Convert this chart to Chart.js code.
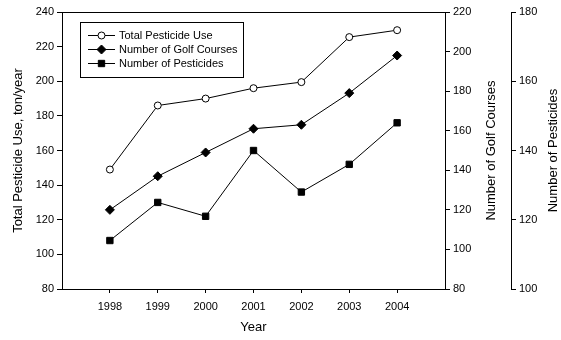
<!DOCTYPE html>
<html>
<head>
<meta charset="utf-8">
<script src="https://cdn.jsdelivr.net/npm/chart.js@4/dist/chart.umd.min.js"></script>
<style>
  html, body { margin: 0; padding: 0; background: #fff; }
  #chart { display: block; }
</style>
</head>
<body>
<canvas id="chart" width="561" height="340"></canvas>
<script>
// values
const years = [1998, 1999, 2000, 2001, 2002, 2003, 2004];
const totalUse = [149, 186, 190, 196, 199.5, 225.5, 229.5];   // ton/year, left axis
const golfCourses = [120, 137, 149, 161, 163, 179, 198];      // middle axis
const pesticides = [114, 125, 121, 140, 128, 136, 148];       // far right axis

const seriesNames = ['Total Pesticide Use', 'Number of Golf Courses', 'Number of Pesticides'];
const yTitles = ['Total Pesticide Use, ton/year', 'Number of Golf Courses', 'Number of Pesticides'];

const FONT = 'Arial, "Liberation Sans", sans-serif';

function pts(vals) {
    return years.map((y, i) => ({ x: y, y: vals[i] }));
}

function drawMarker(ctx, style, x, y, r, fill) {
    ctx.beginPath();
    if (style === 'circle') {
        ctx.arc(x, y, r, 0, Math.PI * 2);
    } else if (style === 'rectRot') {
        ctx.moveTo(x, y - r);
        ctx.lineTo(x + r, y);
        ctx.lineTo(x, y + r);
        ctx.lineTo(x - r, y);
        ctx.closePath();
    } else {
        const s = r * Math.SQRT1_2;
        ctx.rect(x - s, y - s, s * 2, s * 2);
    }
    ctx.fillStyle = fill;
    ctx.fill();
    ctx.strokeStyle = '#000';
    ctx.lineWidth = 1;
    ctx.stroke();
}

// top frame line, legend box and the rotated axis titles
const extras = {
    id: 'extras',
    afterDraw(chart) {
        const ctx = chart.ctx;
        const area = chart.chartArea;
        ctx.save();

        ctx.strokeStyle = '#000';
        ctx.lineWidth = 1;
        ctx.beginPath();
        ctx.moveTo(area.left, area.top + 0.5);
        ctx.lineTo(area.right, area.top + 0.5);
        ctx.stroke();

        // legend
        ctx.strokeRect(80.5, 22.5, 163, 55);
        const rows = [35, 49, 63];
        chart.data.datasets.forEach((ds, i) => {
            const y = rows[i];
            ctx.beginPath();
            ctx.moveTo(88, y + 0.5);
            ctx.lineTo(115, y + 0.5);
            ctx.strokeStyle = '#000';
            ctx.stroke();
            drawMarker(ctx, ds.pointStyle, 101.5, y + 0.5, ds.pointRadius, ds.pointBackgroundColor);
            ctx.fillStyle = '#000';
            ctx.font = '11px ' + FONT;
            ctx.textAlign = 'left';
            ctx.textBaseline = 'middle';
            ctx.fillText(ds.label, 119, y + 1);
        });

        // y axis titles, all reading bottom to top
        const cy = (area.top + area.bottom) / 2;
        [18, 491, 553].forEach((x, i) => {
            ctx.save();
            ctx.translate(x, cy);
            ctx.rotate(-Math.PI / 2);
            ctx.fillStyle = '#000';
            ctx.font = '13px ' + FONT;
            ctx.textAlign = 'center';
            ctx.textBaseline = 'middle';
            ctx.fillText(yTitles[i], 0, 0);
            ctx.restore();
        });
        ctx.restore();
    }
};

function yAxis(position, min, max, width, weight) {
    return {
        type: 'linear',
        position: position,
        weight: weight,
        min: min,
        max: max,
        afterFit: s => { s.width = width; },
        border: { display: true, color: '#000', width: 1 },
        grid: { drawOnChartArea: false, drawTicks: true, tickLength: 5, color: '#000' },
        ticks: { stepSize: 20, color: '#000', padding: 3, font: { family: FONT, size: 11 } },
        title: { display: false }
    };
}

new Chart(document.getElementById('chart'), {
    type: 'line',
    data: {
        datasets: [
            {
                label: seriesNames[0], data: pts(totalUse), yAxisID: 'y',
                borderColor: '#000', borderWidth: 1, pointStyle: 'circle', pointRadius: 3.5,
                pointBackgroundColor: '#fff', pointBorderColor: '#000', pointBorderWidth: 1
            },
            {
                label: seriesNames[1], data: pts(golfCourses), yAxisID: 'yGolf',
                borderColor: '#000', borderWidth: 1, pointStyle: 'rectRot', pointRadius: 4.5,
                pointBackgroundColor: '#000', pointBorderColor: '#000', pointBorderWidth: 1
            },
            {
                label: seriesNames[2], data: pts(pesticides), yAxisID: 'yPest',
                borderColor: '#000', borderWidth: 1, pointStyle: 'rect', pointRadius: 4.5,
                pointBackgroundColor: '#000', pointBorderColor: '#000', pointBorderWidth: 1
            }
        ]
    },
    options: {
        responsive: false,
        devicePixelRatio: 1,
        animation: false,
        layout: { padding: { top: 12, left: 0, right: 0, bottom: 0 } },
        plugins: { legend: { display: false }, tooltip: { enabled: false } },
        scales: {
            x: {
                type: 'linear',
                min: 1997,
                max: 2005,
                afterFit: s => { s.height = 51; },
                afterBuildTicks: s => { s.ticks = years.map(v => ({ value: v })); },
                border: { display: true, color: '#000', width: 1 },
                grid: { drawOnChartArea: false, drawTicks: true, tickLength: 4, color: '#000' },
                ticks: {
                    color: '#000', padding: 7, maxRotation: 0, autoSkip: false,
                    font: { family: FONT, size: 11 },
                    callback: v => String(v)
                },
                title: {
                    display: true, text: 'Year', color: '#000',
                    font: { family: FONT, size: 13 },
                    padding: { top: 0, bottom: 5 }
                }
            },
            y: yAxis('left', 80, 240, 62, 0),
            yGolf: yAxis('right', 80, 220, 66, 0),
            yPest: yAxis('right', 100, 180, 50, 1)
        }
    },
    plugins: [extras]
});
</script>
</body>
</html>
